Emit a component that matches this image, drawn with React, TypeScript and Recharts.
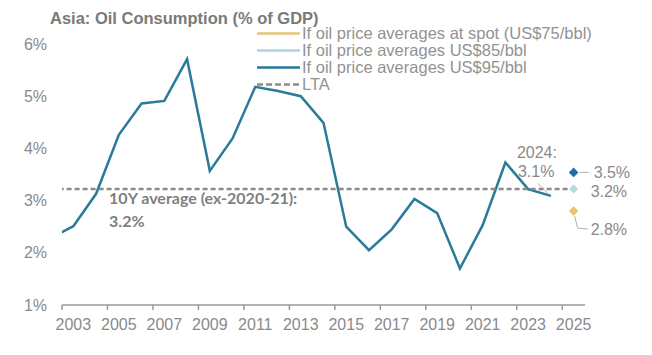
import { ComposedChart, Line, XAxis, YAxis, Legend, LabelList } from "recharts";

// Asia oil consumption, % of GDP (2002 sits just left of the visible plot)
const years = [
  2002, 2003, 2004, 2005, 2006, 2007, 2008, 2009, 2010, 2011, 2012, 2013,
  2014, 2015, 2016, 2017, 2018, 2019, 2020, 2021, 2022, 2023, 2024, 2025,
];
const history = [
  2.28, 2.51, 3.13, 4.26, 4.86, 4.91, 5.71, 3.57, 4.19, 5.18, 5.1, 5.0,
  4.49, 2.5, 2.05, 2.45, 3.03, 2.76, 1.7, 2.53, 3.73, 3.22, 3.09, null,
];
const ltaValues = [
  3.22, 3.22, 3.22, 3.22, 3.22, 3.22, 3.22, 3.22, 3.22, 3.22, 3.22, 3.22,
  3.22, 3.22, 3.22, 3.22, 3.22, 3.22, 3.22, 3.22, 3.22, 3.22, 3.22, 3.22,
];
const scenarioYear = 2025;
const spot75 = 2.8;
const price85 = 3.22;
const price95 = 3.54;
const xTicks = [2003, 2005, 2007, 2009, 2011, 2013, 2015, 2017, 2019, 2021, 2023, 2025];
const yTicks = [1, 2, 3, 4, 5, 6];

const legendNames: Record<string, string> = {
  s75: "If oil price averages at spot (US$75/bbl)",
  s85: "If oil price averages US$85/bbl",
  s95: "If oil price averages US$95/bbl",
  lta: "LTA",
};
const legendOrder = ["s75", "s85", "s95", "lta"];

const data = years.map((year, i) => ({
  year,
  history: history[i],
  lta: ltaValues[i],
  s75: year === scenarioYear ? spot75 : null,
  s85: year === scenarioYear ? price85 : null,
  s95: year === scenarioYear ? price95 : null,
}));

const W = 652;
const H = 355;
const M = { top: 44, right: 67, bottom: 0, left: 0 };
const Y_AXIS_W = 62;
const PLOT_W = W - M.left - M.right - Y_AXIS_W;
const HALF_BAND = PLOT_W / 23 / 2;

const FONT = "'Liberation Sans', Arial, Helvetica, sans-serif";
const GREY = "#8a8a8a";
const LINE_BLUE = "#2a7a9a";

const diamond = (fill: string, r: number) => (props: any) => {
  const { cx, cy, value, index } = props;
  if (value == null || cx == null || cy == null) return <g key={`d-${index}`} />;
  return (
    <polygon
      key={`d-${index}`}
      points={`${cx},${cy - r} ${cx + r},${cy} ${cx},${cy + r} ${cx - r},${cy}`}
      fill={fill}
    />
  );
};

const XTick = (props: any) => {
  const { x, y, payload } = props;
  return (
    <g>
      <line x1={x - HALF_BAND} x2={x - HALF_BAND} y1={y} y2={y + 5} stroke="#9a9a9a" strokeWidth={1.5} />
      <text x={x} y={y + 25} textAnchor="middle" fill={GREY} fontSize={16} fontFamily={FONT}>
        {payload.value}
      </text>
    </g>
  );
};

const fmt = (v: number) => `${v.toFixed(1)}%`;

const LegendBox = (props: any) => {
  const items = [...(props.payload || [])]
    .filter((p: any) => legendOrder.includes(p.dataKey))
    .sort((a: any, b: any) => legendOrder.indexOf(a.dataKey) - legendOrder.indexOf(b.dataKey));
  return (
    <div style={{ fontFamily: FONT, fontSize: 16.5, color: "#929292" }}>
      {items.map((p: any) => (
        <div key={p.dataKey} style={{ display: "flex", alignItems: "center", height: 17, lineHeight: "17px" }}>
          <svg width={43} height={17} style={{ marginRight: 2 }}>
            <line
              x1={0}
              x2={43}
              y1={8.5}
              y2={8.5}
              stroke={p.color}
              strokeWidth={2.5}
              strokeDasharray={p.dataKey === "lta" ? "6 3" : undefined}
            />
          </svg>
          <span style={{ whiteSpace: "nowrap" }}>{legendNames[p.dataKey]}</span>
        </div>
      ))}
    </div>
  );
};

export default function App() {
  const i2024 = years.indexOf(2024);
  const i2004 = years.indexOf(2004);
  return (
    <div style={{ position: "absolute", left: 0, top: 0, width: W, height: H, background: "#fff" }}>
      <div
        style={{
          position: "absolute",
          left: 50,
          top: 10,
          fontFamily: FONT,
          fontSize: 16.5,
          lineHeight: 1,
          fontWeight: 700,
          color: "#7a7a7a",
          whiteSpace: "nowrap",
          zIndex: 2,
        }}
      >
        Asia: Oil Consumption (% of GDP)
      </div>
      <ComposedChart width={W} height={H} data={data} margin={M}>
        <XAxis
          dataKey="year"
          type="number"
          domain={[2002.5, 2025.5]}
          allowDataOverflow
          ticks={xTicks}
          height={50}
          tickSize={0}
          tickMargin={0}
          tickLine={false}
          axisLine={{ stroke: "#9a9a9a", strokeWidth: 1.5 }}
          tick={<XTick />}
          interval={0}
        />
        <YAxis
          domain={[1, 6]}
          ticks={yTicks}
          width={Y_AXIS_W}
          axisLine={false}
          tickLine={false}
          tickSize={0}
          tickMargin={15}
          tickFormatter={(v: number) => `${v}%`}
          tick={{ fill: GREY, fontSize: 16, fontFamily: FONT }}
        />
        <Legend
          layout="vertical"
          verticalAlign="middle"
          align="center"
          content={<LegendBox />}
          wrapperStyle={{ left: 257, top: 24.5, width: "auto" }}
        />
        <Line
          dataKey="history"
          stroke={LINE_BLUE}
          strokeWidth={2.5}
          dot={false}
          legendType="none"
          isAnimationActive={false}
        >
          <LabelList
            dataKey="history"
            content={(p: any) => {
              if (p.index !== i2024 || p.value == null) return null;
              const { x, y } = p;
              return (
                <g fontFamily={FONT} fontSize={16} fill={GREY}>
                  <text x={x - 34} y={y - 43} dominantBaseline="central">2024:</text>
                  <text x={x - 33} y={y - 24} dominantBaseline="central">{fmt(p.value)}</text>
                  <line x1={x - 13} y1={y - 12.5} x2={x - 3} y2={y - 2.5} stroke="#b0b0b0" strokeWidth={1} />
                </g>
              );
            }}
          />
        </Line>
        <Line
          dataKey="lta"
          stroke="#8a8a8a"
          strokeWidth={2.5}
          strokeDasharray="5 3"
          dot={false}
          isAnimationActive={false}
        >
          <LabelList
            dataKey="lta"
            content={(p: any) => {
              if (p.index !== i2004) return null;
              const { x, y } = p;
              return (
                <text x={x + 13} y={y + 15} fontFamily="Lato, 'Open Sans', sans-serif" fontWeight={700} fontSize={16} fill="#7f7f7f">
                  <tspan x={x + 13} dy={0}>10Y average (ex-2020-21):</tspan>
                  <tspan x={x + 13} dy={22.5}>{fmt(p.value)}</tspan>
                </text>
              );
            }}
          />
        </Line>
        <Line dataKey="s75" stroke="#e6c574" dot={diamond("#e8c46c", 4.7)} isAnimationActive={false}>
          <LabelList
            dataKey="s75"
            content={(p: any) => {
              if (p.value == null) return null;
              const { x, y } = p;
              return (
                <g>
                  <polyline
                    points={`${x + 1},${y + 5} ${x + 4},${y + 17} ${x + 14},${y + 18}`}
                    fill="none"
                    stroke="#b0b0b0"
                    strokeWidth={1}
                  />
                  <text x={x + 17} y={y + 18} dominantBaseline="central" fontFamily={FONT} fontSize={16} fill={GREY}>
                    {fmt(p.value)}
                  </text>
                </g>
              );
            }}
          />
        </Line>
        <Line dataKey="s85" stroke="#a9d4df" dot={diamond("#b3dbe3", 4.5)} isAnimationActive={false}>
          <LabelList
            dataKey="s85"
            content={(p: any) => {
              if (p.value == null) return null;
              const { x, y } = p;
              return (
                <text x={x + 17} y={y + 2} dominantBaseline="central" fontFamily={FONT} fontSize={16} fill={GREY}>
                  {fmt(p.value)}
                </text>
              );
            }}
          />
        </Line>
        <Line dataKey="s95" stroke="#23779a" dot={diamond("#1f6fa3", 4.8)} isAnimationActive={false}>
          <LabelList
            dataKey="s95"
            content={(p: any) => {
              if (p.value == null) return null;
              const { x, y } = p;
              return (
                <g>
                  <line x1={x + 6} y1={y} x2={x + 15} y2={y} stroke="#b0b0b0" strokeWidth={1} />
                  <text x={x + 20} y={y} dominantBaseline="central" fontFamily={FONT} fontSize={16} fill={GREY}>
                    {fmt(p.value)}
                  </text>
                </g>
              );
            }}
          />
        </Line>
      </ComposedChart>
    </div>
  );
}
